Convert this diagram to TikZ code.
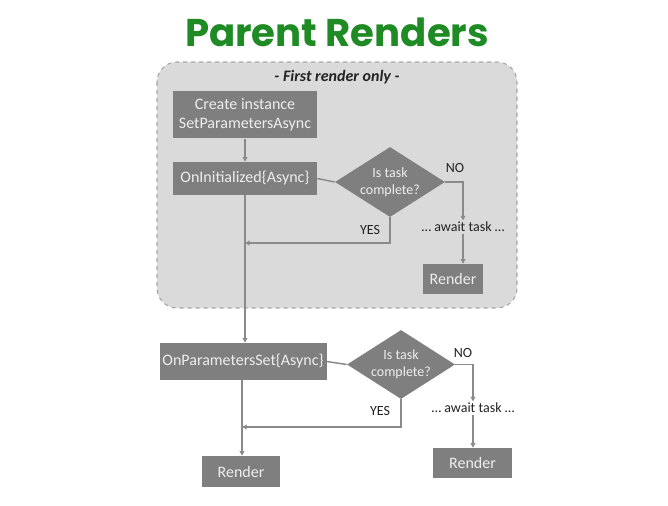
\documentclass[tikz,border=0pt]{standalone}
\usepackage{fontspec}
\setmainfont{Carlito}
\newfontfamily\titlefont{Poppins}
\usetikzlibrary{shapes.geometric,arrows.meta}
\definecolor{titlegreen}{HTML}{1F8B24}
\definecolor{boxgray}{HTML}{7F7F7F}
\definecolor{boxtext}{HTML}{EEEEEE}
\definecolor{regionfill}{HTML}{DADADA}
\definecolor{regionline}{HTML}{A6A6A6}
\definecolor{linegray}{HTML}{8A8A8A}
\definecolor{labeltext}{HTML}{222222}
\tikzset{
  boxnode/.style={fill=boxgray, text=boxtext, inner sep=0pt, align=center,
    font=\fontsize{12}{14.5}\selectfont},
  decision/.style={diamond, fill=boxgray, inner sep=0pt},
  dtext/.style={text=boxtext, inner sep=0pt, align=center,
    font=\fontsize{10.5}{12.5}\selectfont},
  lbl/.style={text=labeltext, font=\fontsize{10.5}{12}\selectfont, inner sep=1pt},
  conn/.style={draw=linegray, line width=1.1pt},
  arr/.style={conn, -{Triangle[width=3.5pt,length=3.5pt]}},
}
\begin{document}
\begin{tikzpicture}[x=0.75pt,y=-0.75pt]
\useasboundingbox (0,0) rectangle (668,506);
\fill[white] (0,0) rectangle (668,506);
% title
\node[text=titlegreen, font=\titlefont\bfseries\fontsize{29}{34}\selectfont] (title) at (337,32) {Parent Renders};
% region
\draw[fill=regionfill, draw=regionline, dashed, line width=0.8pt, rounded corners=15pt] (157,62) rectangle (517,308);
\node[text=labeltext, font=\bfseries\itshape\fontsize{12}{14}\selectfont] (first) at (337,77) {- First render only -};
% top section
\node[boxnode, minimum width=108pt, minimum height=35.25pt] (box1) at (245,115) {Create instance\\SetParametersAsync};
\node[boxnode, minimum width=108pt, minimum height=24.75pt] (box2) at (245,178.5) {OnInitialized\{Async\}};
\node[decision, minimum width=82.5pt, minimum height=52.5pt] (d1) at (390,182) {};
\node[dtext] (d1t) at (d1.center) {Is task\\complete?};
\node[lbl] (no1) at (455,168) {NO};
\node[lbl] (yes1) at (370,230) {YES};
\node[lbl] (await1) at (463,227) {… await task …};
\node[boxnode, minimum width=45pt, minimum height=22.5pt] (render1) at (453,279) {Render};
\coordinate (j1) at (245,243);
\draw[arr] (box1) -- (box2);
\draw[conn] (box2.east) -- (d1.west);
\draw[arr] (d1.east) -| (await1.north);
\draw[arr] (await1.south) -- (await1.south |- render1.north);
\draw[arr] (d1.south) |- (j1);
% bottom section
\node[boxnode, minimum width=125.25pt, minimum height=27.75pt] (box3) at (243,361.5) {OnParametersSet\{Async\}};
\node[decision, minimum width=81pt, minimum height=51.75pt] (d2) at (401,364.5) {};
\node[dtext] (d2t) at (d2.center) {Is task\\complete?};
\node[lbl] (no2) at (463,353) {NO};
\node[lbl] (yes2) at (380,411) {YES};
\node[lbl] (await2) at (473,408) {… await task …};
\node[boxnode, minimum width=59.25pt, minimum height=22.5pt] (render2) at (472.5,463) {Render};
\node[boxnode, minimum width=58.5pt, minimum height=23.25pt] (render3) at (241,471.5) {Render};
\coordinate (j2) at (242,427);
\draw[arr] (box2.south) -- (box2.south |- box3.north);
\draw[conn] (box3.east) -- (d2.west);
\draw[arr] (d2.east) -| (await2.north);
\draw[arr] (await2.south) -- (await2.south |- render2.north);
\draw[arr] (d2.south) |- (j2);
\draw[arr] (box3.south -| j2) -- (j2 |- render3.north);
\end{tikzpicture}
\end{document}
